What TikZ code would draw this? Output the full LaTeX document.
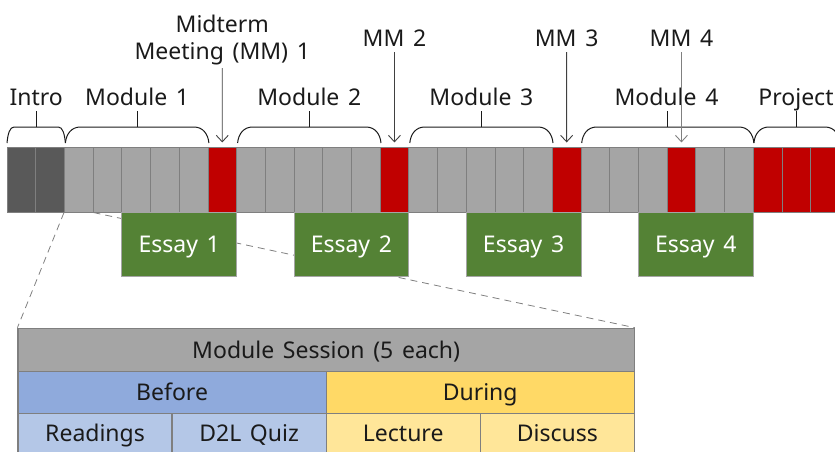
\documentclass[tikz,border=0pt]{standalone}
\usepackage{fontspec}
\setmainfont{Noto Sans}[WordSpace=1.45]
\usetikzlibrary{arrows.meta}
\definecolor{introgray}{HTML}{595959}
\definecolor{modgray}{HTML}{A5A5A5}
\definecolor{mmred}{HTML}{C00000}
\definecolor{cellline}{HTML}{7F7F7F}
\definecolor{essaygreen}{HTML}{548235}
\definecolor{essayline}{HTML}{A5A5A5}
\definecolor{beforeblue}{HTML}{8FAADC}
\definecolor{lightblue}{HTML}{B4C7E7}
\definecolor{duringyellow}{HTML}{FFD966}
\definecolor{lightyellow}{HTML}{FFE699}
\definecolor{textblack}{HTML}{1A1A1A}
\newcommand\mybrace[4]{%
  \draw[bracestyle] (#1,143) .. controls (#1+0.8,134) and (#1+#4*0.4,127) .. (#1+#4,127)
     -- (#2-#4,127) .. controls (#2-#4*0.4,127) and (#2-0.8,134) .. (#2,143);
  \draw[bracestyle] (#3,127) -- (#3,111);}
\begin{document}
\begin{tikzpicture}[x=1pt,y=-1pt,
  font=\fontsize{23}{27}\selectfont,
  cell/.style={draw=cellline, line width=0.8pt, inner sep=0pt,
    minimum width=28.7pt, minimum height=64.3pt},
  essay/.style={draw=essayline, line width=1pt, fill=essaygreen, text=white,
    inner sep=0pt, minimum width=114.8pt, minimum height=64pt,
    text height=16.4pt, text depth=0pt},
  tcell/.style={draw=cellline, line width=1.2pt, inner sep=0pt, text=textblack,
    text height=16.4pt, text depth=0pt},
  lab/.style={inner sep=0pt, text=textblack},
  bracestyle/.style={draw=textblack, line width=1pt},
  arr/.style={draw=black!75, line width=0.9pt, -{Straight Barb[length=6.5pt,width=12pt]}},
  zoomline/.style={draw=cellline, line width=0.8pt, dash pattern=on 7pt off 5pt}]
\useasboundingbox (0,0) rectangle (835,451);
\clip (0,0) rectangle (835,451);
% timeline cells
\foreach \i/\c in {0/introgray,1/introgray,2/modgray,3/modgray,4/modgray,5/modgray,6/modgray,
  7/mmred,8/modgray,9/modgray,10/modgray,11/modgray,12/modgray,13/mmred,
  14/modgray,15/modgray,16/modgray,17/modgray,18/modgray,19/mmred,
  20/modgray,21/modgray,22/modgray,23/mmred,24/modgray,25/modgray,
  26/mmred,27/mmred,28/mmred}
  \node[cell, fill=\c] (c\i) at ({7+28.7*(\i+0.5)},180) {};
% braces and labels
\mybrace{7}{65.4}{36.2}{7}
\mybrace{65.4}{208.9}{137.15}{15}
\mybrace{237.6}{381}{309.3}{15}
\mybrace{409.8}{553}{481.4}{15}
\mybrace{581.7}{753.9}{667.8}{15}
\mybrace{753.9}{840}{796}{15}
\node[lab, anchor=base] (lintro) at (36.2,105) {Intro};
\node[lab, anchor=base] (lm1) at (137.15,105) {Module 1};
\node[lab, anchor=base] (lm2) at (309.3,105) {Module 2};
\node[lab, anchor=base] (lm3) at (481.4,105) {Module 3};
\node[lab, anchor=base] (lm4) at (666.5,105) {Module 4};
\node[lab, anchor=base] (lproj) at (796,105) {Project};
% table
\node[tcell, fill=modgray, minimum width=616.3pt, minimum height=43.4pt] (sess) at (326.15,350) {Module Session (5 each)};
\node[tcell, fill=beforeblue, minimum width=308.15pt, minimum height=41.6pt] (before) at (172.1,392.5) {Before};
\node[tcell, fill=duringyellow, minimum width=308.15pt, minimum height=41.6pt] (during) at (480.2,392.5) {During};
\node[tcell, fill=lightblue, minimum width=154.1pt, minimum height=40pt] (read) at (95.05,433.3) {Readings};
\node[tcell, fill=lightblue, minimum width=154.1pt, minimum height=40pt] (quiz) at (249.1,433.3) {D2L Quiz};
\node[tcell, fill=lightyellow, minimum width=154.1pt, minimum height=40pt] (lect) at (403.2,433.3) {Lecture};
\node[tcell, fill=lightyellow, minimum width=154.1pt, minimum height=40pt] (disc) at (557.3,433.3) {Discuss};
% zoom lines
\draw[zoomline] (c2.south west) -- (sess.north west);
\draw[zoomline] (c2.south east) -- (sess.north east);
% essays
\node[essay] (e1) at ({7+28.7*6},244) {Essay 1};
\node[essay] (e2) at ({7+28.7*12},244) {Essay 2};
\node[essay] (e3) at ({7+28.7*18},244) {Essay 3};
\node[essay] (e4) at ({7+28.7*24},244) {Essay 4};
% midterm meetings
\node[lab, anchor=south, align=center] (mm1) at (222.25,65.5) {Midterm\\Meeting (MM) 1};
\node[lab, anchor=base] (mm2) at (394.45,46) {MM 2};
\node[lab, anchor=base] (mm3) at (566.65,46) {MM 3};
\node[lab, anchor=base] (mm4) at (681.45,46) {MM 4};
\draw[arr, shorten <=2.5pt, shorten >=5pt] (mm1.south) -- (c7.north);
\draw[arr, shorten <=6pt, shorten >=5pt] (mm2.base) -- (c13.north);
\draw[arr, shorten <=6pt, shorten >=5pt] (mm3.base) -- (c19.north);
\draw[arr, draw=black!50, shorten <=6pt, shorten >=5pt] (mm4.base) -- (c23.north);
\end{tikzpicture}
\end{document}
